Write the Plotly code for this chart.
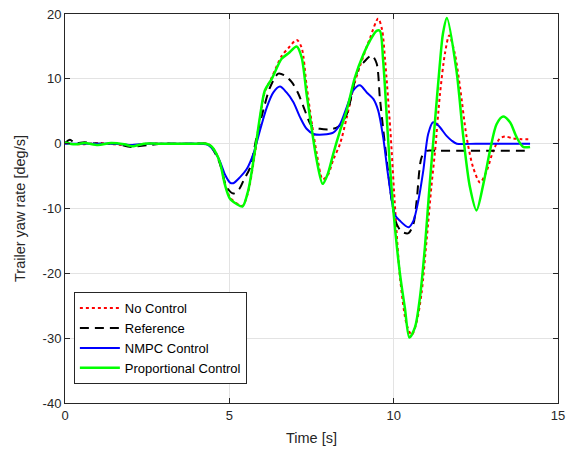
import plotly.graph_objects as go

# ---------------- data ----------------
t_noctrl = [0, 0.5, 1.0, 1.5, 2.05, 2.5, 3.0, 3.5, 4.0, 4.3, 4.45, 4.6, 4.72, 4.87, 5.02, 5.22,
            5.4, 5.57, 5.78, 5.93, 6.08, 6.29, 6.59, 6.79, 7.05, 7.2, 7.35, 7.5, 7.66, 7.84,
            8.0, 8.16, 8.37, 8.57, 8.82, 9.08, 9.28, 9.53, 9.65, 9.74, 9.9, 10.05, 10.2, 10.4,
            10.55, 10.7, 10.85, 11.0, 11.15, 11.26, 11.41, 11.56, 11.69, 11.86, 12.02, 12.22,
            12.42, 12.63, 12.83, 13.03, 13.23, 13.39, 13.64, 13.9, 14.15]
y_noctrl = [0.1, -0.1, 0.1, -0.1, -0.3, 0.0, 0.0, 0.0, 0.0, 0.0, -0.4, -1.5, -3.0, -6.2, -8.3, -9.2,
            -9.6, -7.5, -1.5, 3.8, 8.0, 10.2, 13.5, 14.7, 16.0, 14.8, 9.0, 3.5, -1.5, -5.5,
            -4.8, -2.5, 0.0, 4.0, 9.5, 13.5, 16.3, 19.3, 17.5, 12.8, 2.0, -10.5, -21.0, -28.0,
            -29.5, -27.5, -23.0, -15.0, -6.5, -1.1, 7.7, 13.9, 16.7, 13.9, 8.7, 1.0,
            -3.7, -6.0, -4.2, -1.1, 0.8, 1.1, 0.8, 0.7, 0.7]

t_ref = [0, 0.15, 0.3, 0.6, 1.0, 1.5, 2.0, 2.2, 2.6, 3.0, 3.5, 4.0, 4.3, 4.45, 4.6, 4.72, 4.92,
         5.12, 5.3, 5.43, 5.63, 5.83, 6.03, 6.24, 6.49, 6.69, 6.9, 7.1, 7.3, 7.5, 7.76, 8.06,
         8.31, 8.57, 8.77, 8.92, 9.08, 9.33, 9.48, 9.58, 9.68, 9.8, 9.95, 10.1, 10.25, 10.45,
         10.6, 10.7, 10.85, 11.0, 11.3, 12.0, 13.0, 14.15]
y_ref = [0.1, 0.6, 0.1, 0.2, 0.0, 0.0, -0.5, -0.4, -0.2, 0.0, 0.0, 0.0, 0.0, -0.5, -1.8, -3.2, -6.7,
         -7.7, -7.0, -5.7, -3.7, 1.0, 5.1, 8.7, 10.8, 10.5, 9.5, 7.7, 5.1, 2.8, 2.3, 2.2,
         2.6, 4.5, 8.7, 11.5, 12.5, 13.6, 12.4, 7.1, 2.3, -3.0, -9.0, -12.5, -13.6, -13.8,
         -12.4, -8.8, -2.1, -1.1, -1.1, -1.1, -1.1, -1.1]

t_nmpc = [0, 0.5, 1.0, 1.5, 2.0, 2.5, 3.0, 3.5, 4.0, 4.3, 4.45, 4.6, 4.72, 4.87, 5.02, 5.12, 5.32,
          5.53, 5.73, 5.93, 6.14, 6.34, 6.54, 6.74, 6.95, 7.15, 7.35, 7.56, 7.86, 8.16, 8.37,
          8.57, 8.77, 8.97, 9.18, 9.38, 9.53, 9.68, 9.84, 10.04, 10.19, 10.45, 10.6, 10.75,
          10.9, 11.05, 11.2, 11.36, 11.61, 11.76, 11.92, 12.5, 13.5, 14.15]
y_nmpc = [0.0, 0.0, 0.0, 0.0, -0.2, 0.0, 0.0, 0.0, 0.0, -0.1, -0.6, -1.6, -2.8, -4.8, -6.0, -6.1, -5.2,
          -3.9, -1.6, 2.0, 5.6, 7.9, 8.8, 7.9, 6.4, 4.1, 2.3, 1.5, 1.4, 1.7, 3.0,
          5.6, 8.2, 9.0, 7.9, 6.9, 5.1, 1.0, -5.2, -11.0, -11.9, -12.9, -11.9, -8.8,
          -4.2, 1.5, 3.3, 2.8, 1.2, 0.5, 0.0, 0.0, 0.0, 0.0]

t_prop = [0, 0.3, 0.6, 1.0, 1.4, 1.8, 2.05, 2.4, 2.8, 3.2, 3.6, 4.0, 4.3, 4.45, 4.6, 4.72, 4.87,
          5.02, 5.22, 5.4, 5.57, 5.78, 5.93, 6.08, 6.29, 6.59, 6.79, 7.05, 7.2, 7.35, 7.5,
          7.66, 7.84, 8.0, 8.16, 8.37, 8.57, 8.82, 9.08, 9.28, 9.48, 9.58, 9.68, 9.84, 9.99,
          10.19, 10.34, 10.48, 10.65, 10.8, 10.95, 11.1, 11.25, 11.4, 11.5, 11.62, 11.91,
          12.12, 12.32, 12.52, 12.73, 12.93, 13.13, 13.33, 13.54, 13.74, 13.94, 14.15]
y_prop = [0.2, -0.1, 0.1, -0.2, 0.1, -0.1, -0.4, 0.0, 0.0, 0.0, 0.0, 0.0, 0.0, -0.4, -1.5, -3.0, -6.4,
          -8.5, -9.3, -9.7, -7.3, -1.1, 4.1, 8.2, 10.0, 13.1, 13.9, 15.0, 13.3, 7.7, 2.5,
          -2.6, -6.2, -4.6, -1.6, 2.0, 5.1, 10.2, 13.8, 15.9, 17.4, 17.4, 12.8, 0.0, -10.3,
          -20.0, -25.3, -29.9, -28.3, -23.7, -16.0, -6.0, 3.0, 12.0, 17.0, 19.4, 11.3,
          1.0, -6.7, -10.3, -6.2, -1.1, 3.0, 4.2, 3.3, 1.0, -0.5, -0.5]

x_ticks = [0, 5, 10, 15]
y_ticks = [-40, -30, -20, -10, 0, 10, 20]

# ---------------- figure ----------------
FONT = "Liberation Sans, Arial, Helvetica, sans-serif"
AXC = "#262626"

fig = go.Figure()
fig.add_trace(go.Scatter(x=t_noctrl, y=y_noctrl, mode="lines", name="No Control",
                         line=dict(color="#ff0000", width=2, dash="dot", shape="spline",
                                   smoothing=0.8)))
fig.add_trace(go.Scatter(x=t_ref, y=y_ref, mode="lines", name="Reference",
                         line=dict(color="#000000", width=2, dash="9px,6px", shape="spline",
                                   smoothing=0.8)))
fig.add_trace(go.Scatter(x=t_nmpc, y=y_nmpc, mode="lines", name="NMPC Control",
                         line=dict(color="#0000ff", width=2, shape="spline", smoothing=0.8)))
fig.add_trace(go.Scatter(x=t_prop, y=y_prop, mode="lines", name="Proportional Control",
                         line=dict(color="#00ff00", width=2.5, shape="spline", smoothing=0.8)))

axis_common = dict(showgrid=True, gridcolor="#e3e3e3", gridwidth=1, zeroline=False,
                   showline=True, linecolor=AXC, linewidth=1, mirror="ticks",
                   ticks="inside", ticklen=5, tickcolor=AXC, automargin=False,
                   tickfont=dict(family=FONT, size=13, color=AXC))

fig.update_xaxes(range=[0, 15], tickvals=x_ticks, ticktext=[str(v) for v in x_ticks],
                 title=dict(text="Time [s]", font=dict(family=FONT, size=14.5, color=AXC),
                            standoff=11),
                 **axis_common)
fig.update_yaxes(range=[-40, 20], tickvals=y_ticks, ticktext=[str(v) for v in y_ticks],
                 title=dict(text="Trailer yaw rate [deg/s]",
                            font=dict(family=FONT, size=14.5, color=AXC), standoff=13),
                 **axis_common)

fig.update_layout(
    width=577, height=459,
    margin=dict(l=65, r=19, t=14, b=56),
    paper_bgcolor="white", plot_bgcolor="white",
    font=dict(family=FONT, size=12, color=AXC),
    showlegend=True,
    legend=dict(x=0.018, y=0.285, xanchor="left", yanchor="top",
                bgcolor="white", bordercolor=AXC, borderwidth=1,
                font=dict(family=FONT, size=13, color="#000000"),
                tracegroupgap=0, itemwidth=40),
)

fig.write_html("out.html")
